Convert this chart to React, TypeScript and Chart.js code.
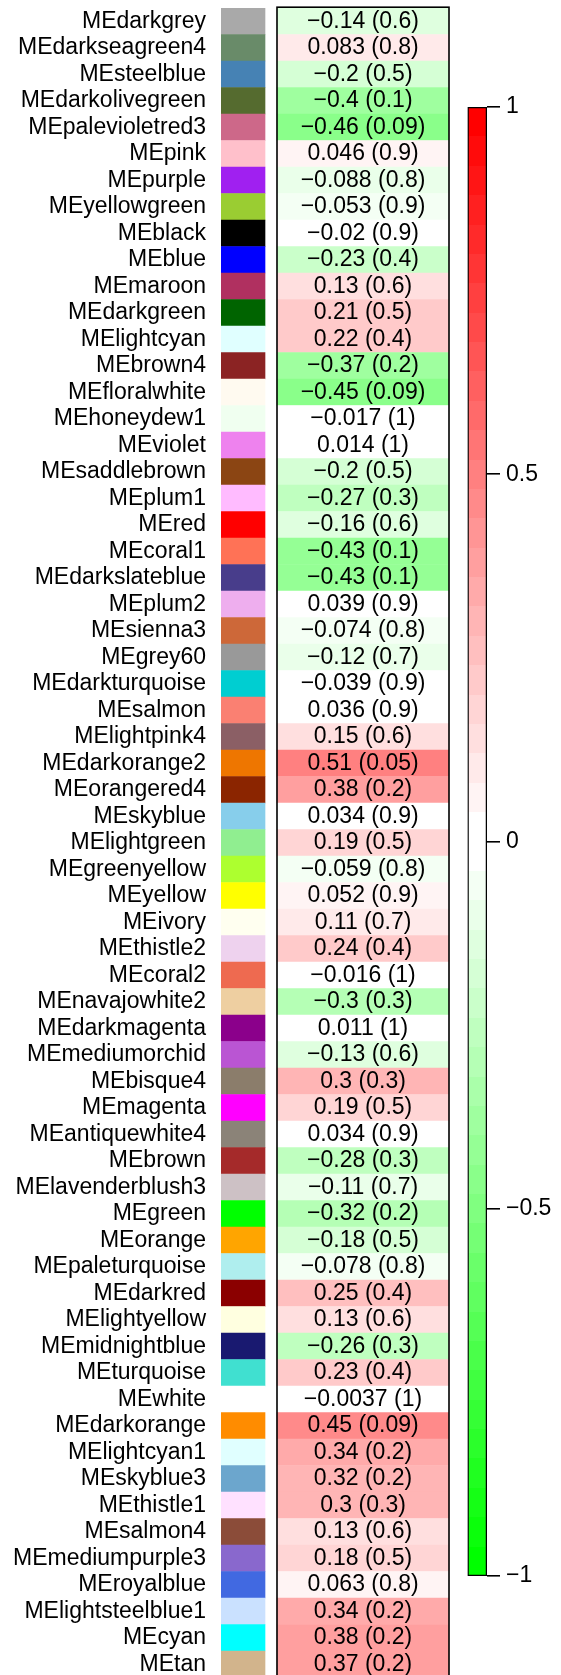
import React, { useEffect, useRef } from 'react';
import { Chart, registerables } from 'chart.js';

Chart.register(...registerables);

// ---------- data ----------
const modules = [
  'MEdarkgrey', 'MEdarkseagreen4', 'MEsteelblue', 'MEdarkolivegreen', 'MEpalevioletred3',
  'MEpink', 'MEpurple', 'MEyellowgreen', 'MEblack', 'MEblue',
  'MEmaroon', 'MEdarkgreen', 'MElightcyan', 'MEbrown4', 'MEfloralwhite',
  'MEhoneydew1', 'MEviolet', 'MEsaddlebrown', 'MEplum1', 'MEred',
  'MEcoral1', 'MEdarkslateblue', 'MEplum2', 'MEsienna3', 'MEgrey60',
  'MEdarkturquoise', 'MEsalmon', 'MElightpink4', 'MEdarkorange2', 'MEorangered4',
  'MEskyblue', 'MElightgreen', 'MEgreenyellow', 'MEyellow', 'MEivory',
  'MEthistle2', 'MEcoral2', 'MEnavajowhite2', 'MEdarkmagenta', 'MEmediumorchid',
  'MEbisque4', 'MEmagenta', 'MEantiquewhite4', 'MEbrown', 'MElavenderblush3',
  'MEgreen', 'MEorange', 'MEpaleturquoise', 'MEdarkred', 'MElightyellow',
  'MEmidnightblue', 'MEturquoise', 'MEwhite', 'MEdarkorange', 'MElightcyan1',
  'MEskyblue3', 'MEthistle1', 'MEsalmon4', 'MEmediumpurple3', 'MEroyalblue',
  'MElightsteelblue1', 'MEcyan', 'MEtan',
];

const moduleColors = [
  '#A9A9A9', '#698B69', '#4682B4', '#556B2F', '#CD6889',
  '#FFC0CB', '#A020F0', '#9ACD32', '#000000', '#0000FF',
  '#B03060', '#006400', '#E0FFFF', '#8B2323', '#FFFAF0',
  '#F0FFF0', '#EE82EE', '#8B4513', '#FFBBFF', '#FF0000',
  '#FF7256', '#483D8B', '#EEAEEE', '#CD6839', '#999999',
  '#00CED1', '#FA8072', '#8B5F65', '#EE7600', '#8B2500',
  '#87CEEB', '#90EE90', '#ADFF2F', '#FFFF00', '#FFFFF0',
  '#EED2EE', '#EE6A50', '#EECFA1', '#8B008B', '#BA55D3',
  '#8B7D6B', '#FF00FF', '#8B8378', '#A52A2A', '#CDC1C5',
  '#00FF00', '#FFA500', '#AFEEEE', '#8B0000', '#FFFFE0',
  '#191970', '#40E0D0', '#FFFFFF', '#FF8C00', '#E0FFFF',
  '#6CA6CD', '#FFE1FF', '#8B4C39', '#8968CD', '#4169E1',
  '#CAE1FF', '#00FFFF', '#D2B48C',
];

const correlations = [
  -0.14, 0.083, -0.2, -0.4, -0.46,
  0.046, -0.088, -0.053, -0.02, -0.23,
  0.13, 0.21, 0.22, -0.37, -0.45,
  -0.017, 0.014, -0.2, -0.27, -0.16,
  -0.43, -0.43, 0.039, -0.074, -0.12,
  -0.039, 0.036, 0.15, 0.51, 0.38,
  0.034, 0.19, -0.059, 0.052, 0.11,
  0.24, -0.016, -0.3, 0.011, -0.13,
  0.3, 0.19, 0.034, -0.28, -0.11,
  -0.32, -0.18, -0.078, 0.25, 0.13,
  -0.26, 0.23, -0.0037, 0.45, 0.34,
  0.32, 0.3, 0.13, 0.18, 0.063,
  0.34, 0.38, 0.37,
];

const pValues = [
  0.6, 0.8, 0.5, 0.1, 0.09,
  0.9, 0.8, 0.9, 0.9, 0.4,
  0.6, 0.5, 0.4, 0.2, 0.09,
  1, 1, 0.5, 0.3, 0.6,
  0.1, 0.1, 0.9, 0.8, 0.7,
  0.9, 0.9, 0.6, 0.05, 0.2,
  0.9, 0.5, 0.8, 0.9, 0.7,
  0.4, 1, 0.3, 1, 0.6,
  0.3, 0.5, 0.9, 0.3, 0.7,
  0.2, 0.5, 0.8, 0.4, 0.6,
  0.3, 0.4, 1, 0.09, 0.2,
  0.2, 0.3, 0.6, 0.5, 0.8,
  0.2, 0.2, 0.2,
];

const colorbarTicks = [-1, -0.5, 0, 0.5, 1];

// ---------- style / layout ----------
const FONT = '"Liberation Sans", Arial, Helvetica, sans-serif';
const FONT_SIZE = 23;
const N_BINS = 50;
const SWATCH_COL: [number, number] = [0, 44];
const CELL_COL: [number, number] = [56, 228];

function fmt(v: number): string {
  return v < 0 ? '\u2212' + String(-v) : String(v);
}

function binColor(k: number): string {
  const half = N_BINS / 2;
  let r: number, g: number, b: number;
  if (k < half) {
    const t = k / (half - 1);
    r = t; g = 1; b = t;
  } else {
    const t = 1 - (k - half) / (half - 1);
    r = 1; g = t; b = t;
  }
  const c = (x: number) => Math.round(x * 255);
  return `rgb(${c(r)},${c(g)},${c(b)})`;
}

function valueColor(v: number): string {
  const k = Math.max(0, Math.min(N_BINS - 1, Math.round(((v + 1) / 2) * (N_BINS - 1))));
  return binColor(k);
}

const cellPlugin = {
  id: 'cellText',
  afterDatasetsDraw(chart: any) {
    const { ctx, chartArea, scales } = chart;
    const x = scales.x;
    const y = scales.y;
    ctx.save();
    ctx.font = `${FONT_SIZE}px ${FONT}`;
    ctx.fillStyle = '#000';
    ctx.textAlign = 'center';
    ctx.textBaseline = 'middle';
    const cx = x.getPixelForValue((CELL_COL[0] + CELL_COL[1]) / 2);
    correlations.forEach((v, i) => {
      ctx.fillText(`${fmt(v)} (${fmt(pValues[i])})`, cx, y.getPixelForValue(i));
    });
    const l = x.getPixelForValue(CELL_COL[0]);
    const r = x.getPixelForValue(CELL_COL[1]);
    ctx.strokeStyle = '#000';
    ctx.lineWidth = 1.6;
    ctx.strokeRect(l, chartArea.top - 0.8, r - l, chartArea.bottom - chartArea.top + 20);
    ctx.restore();
  },
};

function barGradient(chart: any) {
  const { ctx, chartArea } = chart;
  if (!chartArea) return '#ffffff';
  const g = ctx.createLinearGradient(0, chartArea.bottom, 0, chartArea.top);
  for (let k = 0; k < N_BINS; k++) {
    const c = binColor(k);
    g.addColorStop(k / N_BINS, c);
    g.addColorStop((k + 1) / N_BINS, c);
  }
  return g;
}

export default function App() {
  const mainRef = useRef<HTMLCanvasElement | null>(null);
  const barRef = useRef<HTMLCanvasElement | null>(null);

  useEffect(() => {
    document.body.style.margin = '0';
    const font = { family: FONT, size: FONT_SIZE };

    const main = new Chart(mainRef.current as HTMLCanvasElement, {
      type: 'bar',
      data: {
        labels: modules,
        datasets: [
          {
            data: modules.map(() => SWATCH_COL) as any,
            backgroundColor: moduleColors,
            grouped: false,
            barPercentage: 1,
            categoryPercentage: 1,
            borderWidth: 0,
          },
          {
            data: correlations.map(() => CELL_COL) as any,
            backgroundColor: correlations.map(valueColor),
            grouped: false,
            barPercentage: 1,
            categoryPercentage: 1,
            borderWidth: 0,
          },
        ],
      },
      options: {
        indexAxis: 'y',
        animation: false,
        responsive: false,
        events: [],
        layout: { padding: { left: 0, right: 112, top: 8, bottom: 12.5 } },
        plugins: { legend: { display: false }, tooltip: { enabled: false } },
        scales: {
          x: { type: 'linear', display: false, min: 0, max: CELL_COL[1] },
          y: {
            type: 'category',
            grid: { display: false, drawTicks: false },
            border: { display: false },
            ticks: { autoSkip: false, padding: 15, color: '#000', font },
            afterFit: (s: any) => {
              s.width = 221;
              s.paddingTop = 0;
              s.paddingBottom = 0;
            },
          },
        },
      } as any,
      plugins: [cellPlugin],
    });

    const bar = new Chart(barRef.current as HTMLCanvasElement, {
      type: 'bar',
      data: {
        labels: ['scale'],
        datasets: [
          {
            data: [[-1, 1]] as any,
            backgroundColor: (ctx: any) => barGradient(ctx.chart),
            borderColor: '#000',
            borderWidth: 1.6,
            borderSkipped: false,
            barPercentage: 1,
            categoryPercentage: 1,
          },
        ],
      },
      options: {
        animation: false,
        responsive: false,
        events: [],
        layout: { padding: { left: 27.5, right: 0, top: 107, bottom: 99 } },
        plugins: { legend: { display: false }, tooltip: { enabled: false } },
        scales: {
          x: { display: false },
          y: {
            type: 'linear',
            position: 'right',
            min: -1,
            max: 1,
            afterBuildTicks: (s: any) => { s.ticks = colorbarTicks.map((v) => ({ value: v })); },
            ticks: { padding: 6, color: '#000', font, callback: (v: any) => fmt(Number(v)) },
            grid: { drawOnChartArea: false, drawTicks: true, tickLength: 13, color: '#000', lineWidth: 1.6 },
            border: { display: false },
            afterFit: (s: any) => {
              s.width = 74;
              s.paddingTop = 0;
              s.paddingBottom = 0;
            },
          },
        },
      } as any,
    });

    return () => {
      main.destroy();
      bar.destroy();
    };
  }, []);

  return (
    <div style={{ position: 'relative', width: 561, height: 1675, overflow: 'hidden', background: '#fff' }}>
      <canvas ref={mainRef} width={561} height={1690} style={{ position: 'absolute', left: 0, top: 0, width: 561, height: 1690 }} />
      <canvas ref={barRef} width={121} height={1675} style={{ position: 'absolute', left: 440, top: 0, width: 121, height: 1675 }} />
    </div>
  );
}
